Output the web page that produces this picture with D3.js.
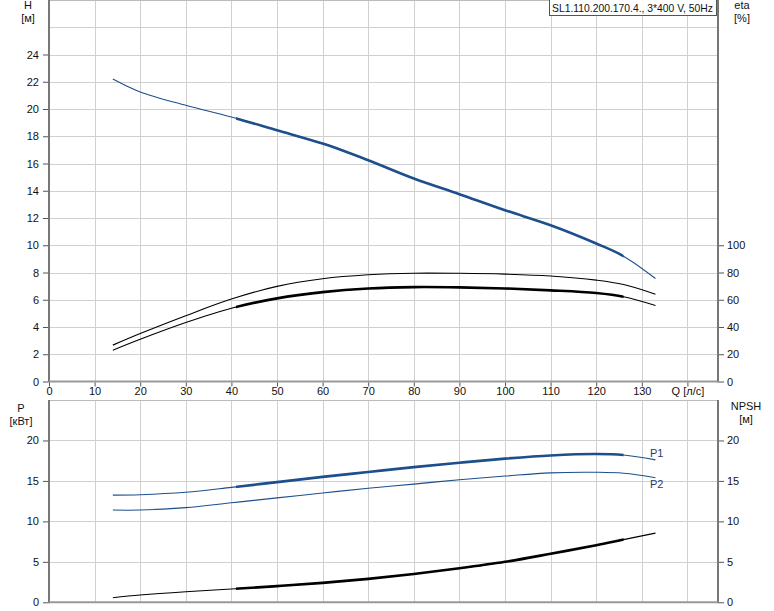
<!DOCTYPE html>
<html><head><meta charset="utf-8">
<script src="https://cdn.jsdelivr.net/npm/d3@7"></script>
<style>
body{margin:0;background:#fff;}
text{font-family:"Liberation Sans",Arial,sans-serif;font-size:11px;fill:#111;}
</style></head>
<body><svg id="c" width="774" height="611"></svg>
<script>
// ---- data ----
const title = "SL1.110.200.170.4., 3*400 V, 50Hz";
const Q = [14, 20, 30, 40, 50, 60, 70, 80, 90, 100, 110, 120, 126, 133];
const H = [22.2, 21.25, 20.27, 19.41, 18.44, 17.46, 16.24, 14.9, 13.75, 12.57, 11.47, 10.13, 9.2, 7.56];
const etaUpper = [26.7, 35.2, 48.3, 60.5, 69.8, 75.4, 78.3, 79.5, 79.4, 78.8, 77.4, 74.4, 71.2, 64.1];
const etaLower = [23, 31.0, 43.3, 53.8, 61.0, 65.6, 68.3, 69.3, 69.1, 68.3, 66.9, 64.9, 62.2, 55.8];
const P1 = [13.25, 13.3, 13.6, 14.2, 14.85, 15.5, 16.1, 16.7, 17.25, 17.75, 18.15, 18.33, 18.2, 17.6];
const P2 = [11.4, 11.4, 11.7, 12.3, 12.9, 13.5, 14.1, 14.6, 15.15, 15.6, 16.0, 16.07, 15.95, 15.4];
const NPSH = [0.57, 0.9, 1.31, 1.64, 2.0, 2.4, 2.9, 3.5, 4.2, 5.0, 6.0, 7.05, 7.75, 8.55];
const opRange = [41, 126];
const qTicks = [0,10,20,30,40,50,60,70,80,90,100,110,120,130];
const hTicks = [0,2,4,6,8,10,12,14,16,18,20,22,24];
const etaTicks = [0,20,40,60,80,100];
const pTicks = [0,5,10,15,20];

// ---- layout ----
const svg = d3.select("#c");
const L = 49, R = 718;
const topT = 0, topB = 381.5, botT = 400, botB = 602.3;
const x = d3.scaleLinear().domain([0,140]).range([L, 687.4]);
const yH = d3.scaleLinear().domain([0,28]).range([topB, topT]);
const yEta = d3.scaleLinear().domain([0,280]).range([topB, topT]);
const yP = d3.scaleLinear().domain([0,25]).range([botB, botT]);
const yN = d3.scaleLinear().domain([0,25]).range([botB, botT]);
const blue = "#1d4f8c", grid = "#d0d0d0", axisCol = "#777";

const defs = svg.append("defs");
function clip(id, t, b){
  defs.append("clipPath").attr("id", id).append("rect")
    .attr("x", x(opRange[0])).attr("width", x(opRange[1]) - x(opRange[0]))
    .attr("y", t).attr("height", b - t);
}
clip("opTop", topT, topB); clip("opBot", botT, botB);

function panel(t, b, yScale, hVals){
  const g = svg.append("g");
  g.selectAll(null).data(d3.range(10,150,10).filter(v=>x(v)<R-1)).enter().append("line")
    .attr("x1", d=>Math.round(x(d))+0.5).attr("x2", d=>Math.round(x(d))+0.5)
    .attr("y1", t).attr("y2", b).attr("stroke", grid);
  g.selectAll(null).data(hVals).enter().append("line")
    .attr("x1", L).attr("x2", R).attr("y1", d=>Math.round(yScale(d))+0.5).attr("y2", d=>Math.round(yScale(d))+0.5)
    .attr("stroke", grid);
  g.append("line").attr("x1", L).attr("x2", R).attr("y1", t+0.5).attr("y2", t+0.5).attr("stroke", "#bbb");
  g.append("line").attr("x1", L).attr("x2", L).attr("y1", t).attr("y2", b+1).attr("stroke", axisCol).attr("stroke-width", 2);
  g.append("line").attr("x1", R).attr("x2", R).attr("y1", t).attr("y2", b+1).attr("stroke", axisCol).attr("stroke-width", 2);
  g.append("line").attr("x1", L).attr("x2", R).attr("y1", b).attr("y2", b).attr("stroke", "#999").attr("stroke-width", 2);
}
panel(topT, topB, yH, d3.range(2,28,2));
panel(botT, botB, yP, [5,10,15,20]);

function styleAxis(g){
  g.select(".domain").remove();
  g.selectAll(".tick line").attr("stroke", "#555");
  g.selectAll(".tick text").style("font-size","11px").attr("fill","#111");
}
svg.append("g").attr("transform", `translate(${L-1},0)`)
  .call(d3.axisLeft(yH).tickValues(hTicks).tickSize(5).tickPadding(4)).call(styleAxis);
svg.append("g").attr("transform", `translate(${R+1},0)`)
  .call(d3.axisRight(yEta).tickValues(etaTicks).tickSize(5).tickPadding(3)).call(styleAxis);
svg.append("g").attr("transform", `translate(0,${topB+1})`)
  .call(d3.axisBottom(x).tickValues(qTicks.concat([140])).tickSize(4).tickPadding(1)
    .tickFormat(d => d===140 ? "Q [л/с]" : d)).call(styleAxis);
svg.append("g").attr("transform", `translate(${L-1},0)`)
  .call(d3.axisLeft(yP).tickValues(pTicks).tickSize(5).tickPadding(4)).call(styleAxis);
svg.append("g").attr("transform", `translate(${R+1},0)`)
  .call(d3.axisRight(yN).tickValues(pTicks).tickSize(5).tickPadding(3)).call(styleAxis);

function label(tx, ty, s, anchor){
  svg.append("text").attr("x", tx).attr("y", ty).attr("text-anchor", anchor||"middle").text(s);
}
label(28, 9, "H"); label(28, 22, "[м]");
label(742, 9, "eta"); label(742, 22, "[%]");
label(21, 412, "P"); label(21, 425, "[кВт]");
label(746, 410, "NPSH"); label(746, 423, "[м]");

svg.append("rect").attr("x", 549.5).attr("y", -1).attr("width", 167).attr("height", 16.5)
  .attr("fill", "#fff").attr("stroke", "#555");
svg.append("text").attr("x", 552).attr("y", 11.5).attr("textLength", 161)
  .attr("lengthAdjust", "spacingAndGlyphs").text(title);

function curve(vals, yS, color, clipId){
  const line = d3.line().x((d,i)=>x(Q[i])).y(d=>yS(d)).curve(d3.curveCatmullRom.alpha(0.5));
  svg.append("path").attr("d", line(vals)).attr("fill","none").attr("stroke", color).attr("stroke-width", 1.1);
  if (clipId) svg.append("path").attr("d", line(vals)).attr("fill","none").attr("stroke", color)
    .attr("stroke-width", 2.6).attr("clip-path", `url(#${clipId})`);
}
curve(H, yH, blue, "opTop");
curve(etaUpper, yEta, "#000", null);
curve(etaLower, yEta, "#000", "opTop");
curve(P1, yP, blue, "opBot");
curve(P2, yP, blue, null);
curve(NPSH, yN, "#000", "opBot");

svg.append("text").attr("x", 650).attr("y", 457).style("fill","#1d3d6b").text("P1");
svg.append("text").attr("x", 650).attr("y", 488).style("fill","#1d3d6b").text("P2");
</script></body></html>
